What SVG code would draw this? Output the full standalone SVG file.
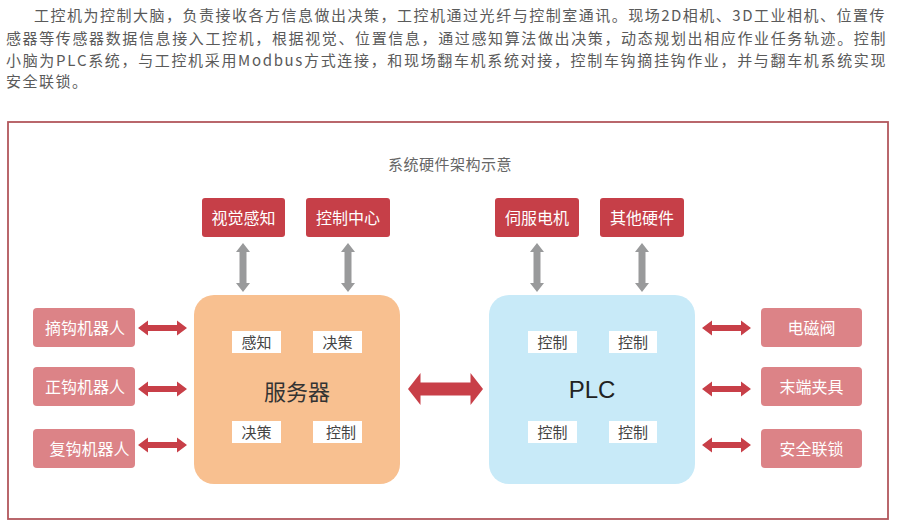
<svg xmlns="http://www.w3.org/2000/svg" xmlns:xlink="http://www.w3.org/1999/xlink" width="900" height="527" viewBox="0 0 900 527">
<style>
text{font-family:"Noto Sans CJK SC","Liberation Sans",sans-serif;}
.para{font-size:15px;fill:#5a5a5a;letter-spacing:1.5px;}
.title{font-size:15px;fill:#666;letter-spacing:0.5px;text-anchor:middle;}
.top rect{fill:#c63f48;}
.top text{font-size:16px;fill:#fff;text-anchor:middle;}
.side rect{fill:#dc8387;}
.side text{font-size:16px;fill:#fff;text-anchor:middle;}
.tag rect{fill:#fff;}
.tag text{font-size:15px;fill:#444;text-anchor:middle;}
.red{fill:#c83f48;}
.gray{fill:#999a9b;}
</style>
<defs>
<path id="sa" d="M-24.5,0 l10,-7.5 v4.5 h29 v-4.5 l10,7.5 l-10,7.5 v-4.5 h-29 v4.5 Z"/>
<path id="va" d="M0,-24.5 l7,9 h-3.5 v31 h3.5 l-7,9 l-7,-9 h3.5 v-31 h-3.5 Z"/>
</defs>
<rect width="900" height="527" fill="#fff"/>
<g id="paragraph">
<text class="para" x="34" y="21" textLength="852" lengthAdjust="spacing">工控机为控制大脑，负责接收各方信息做出决策，工控机通过光纤与控制室通讯。现场2D相机、3D工业相机、位置传</text>
<text class="para" x="6" y="44" textLength="881" lengthAdjust="spacing">感器等传感器数据信息接入工控机，根据视觉、位置信息，通过感知算法做出决策，动态规划出相应作业任务轨迹。控制</text>
<text class="para" x="6" y="66" textLength="881" lengthAdjust="spacing">小脑为PLC系统，与工控机采用Modbus方式连接，和现场翻车机系统对接，控制车钩摘挂钩作业，并与翻车机系统实现</text>
<text class="para" x="6" y="87">安全联锁。</text>
</g>
<rect id="frame" x="8" y="122" width="880" height="397" fill="none" stroke="#b2575c" stroke-width="1.8"/>
<text class="title" x="450" y="170">系统硬件架构示意</text>
<g id="connectors">
<use xlink:href="#va" class="gray" x="243" y="267.5"/>
<use xlink:href="#va" class="gray" x="348" y="267.5"/>
<use xlink:href="#va" class="gray" x="537" y="267.5"/>
<use xlink:href="#va" class="gray" x="642" y="267.5"/>
<use xlink:href="#sa" class="red" x="162.5" y="328"/>
<use xlink:href="#sa" class="red" x="162.5" y="389"/>
<use xlink:href="#sa" class="red" x="162.5" y="445"/>
<use xlink:href="#sa" class="red" x="726.5" y="328"/>
<use xlink:href="#sa" class="red" x="726.5" y="389"/>
<use xlink:href="#sa" class="red" x="726.5" y="445"/>
<path class="red" d="M408,389 l12.5,-16 v9.5 h50 v-9.5 l12.5,16 l-12.5,16 v-9.5 h-50 v9.5 Z"/>
</g>
<g id="n-vision" class="top"><rect x="202" y="198" width="83" height="39" rx="3"/><text x="243.5" y="223.5">视觉感知</text></g>
<g id="n-control-center" class="top"><rect x="306" y="198" width="84" height="39" rx="3"/><text x="348" y="223.5">控制中心</text></g>
<g id="n-servo" class="top"><rect x="495" y="198" width="84" height="39" rx="3"/><text x="537" y="223.5">伺服电机</text></g>
<g id="n-other" class="top"><rect x="600" y="198" width="84" height="39" rx="3"/><text x="642" y="223.5">其他硬件</text></g>
<g id="n-server">
<rect x="194" y="295" width="206" height="189" rx="20" fill="#f8c090"/>
<text x="297" y="400" font-size="22" fill="#333" text-anchor="middle">服务器</text>
<g class="tag"><rect x="232" y="331" width="49" height="22"/><text x="256.5" y="347.5">感知</text></g>
<g class="tag"><rect x="313" y="331" width="49" height="22"/><text x="337.5" y="347.5">决策</text></g>
<g class="tag"><rect x="232" y="421" width="49" height="22"/><text x="256.5" y="437.5">决策</text></g>
<g class="tag"><rect x="313" y="421" width="49" height="22"/><text x="341" y="437.5">控制</text></g>
</g>
<g id="n-plc">
<rect x="489" y="295" width="206" height="189" rx="20" fill="#c8eaf8"/>
<text x="592" y="398" font-size="24" fill="#222" text-anchor="middle" style="font-family:'Liberation Sans',sans-serif">PLC</text>
<g class="tag"><rect x="528" y="331" width="49" height="22"/><text x="552.5" y="347.5">控制</text></g>
<g class="tag"><rect x="609" y="331" width="48" height="22"/><text x="633" y="347.5">控制</text></g>
<g class="tag"><rect x="528" y="421" width="49" height="22"/><text x="552.5" y="437.5">控制</text></g>
<g class="tag"><rect x="609" y="421" width="48" height="22"/><text x="633" y="437.5">控制</text></g>
</g>
<g id="n-unhook" class="side"><rect x="33" y="308" width="102" height="39" rx="4"/><text x="85" y="333.5">摘钩机器人</text></g>
<g id="n-rehook" class="side"><rect x="33" y="367" width="102" height="39" rx="4"/><text x="85" y="392.5">正钩机器人</text></g>
<g id="n-fuhook" class="side"><rect x="33" y="429" width="102" height="39" rx="4"/><text x="89.5" y="454.5">复钩机器人</text></g>
<g id="n-valve" class="side"><rect x="761" y="308" width="101" height="39" rx="4"/><text x="811.5" y="333.5">电磁阀</text></g>
<g id="n-gripper" class="side"><rect x="761" y="367" width="101" height="39" rx="4"/><text x="811.5" y="392.5">末端夹具</text></g>
<g id="n-interlock" class="side"><rect x="761" y="429" width="101" height="39" rx="4"/><text x="811.5" y="454.5">安全联锁</text></g>
</svg>
